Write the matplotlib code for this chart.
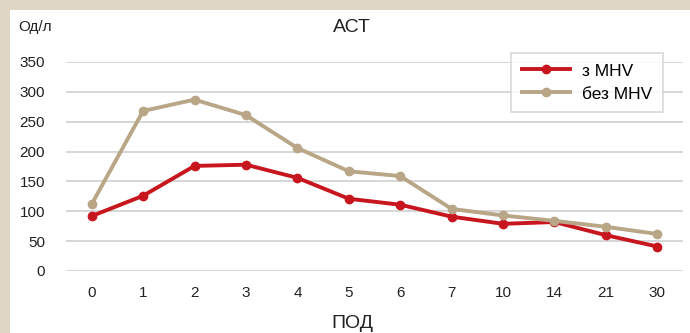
import matplotlib.pyplot as plt
import matplotlib.patches as patches

# data
days = ['0', '1', '2', '3', '4', '5', '6', '7', '10', '14', '21', '30']
with_mhv = [92, 126, 176, 178, 156, 121, 111, 91, 79, 82, 60, 41]
without_mhv = [112, 268, 287, 261, 206, 167, 159, 104, 93, 84, 74, 62]
y_ticks = [0, 50, 100, 150, 200, 250, 300, 350]

plt.rcParams['font.family'] = ['Liberation Sans', 'DejaVu Sans']

W, H = 690, 333
fig = plt.figure(figsize=(W / 100, H / 100), dpi=100)
fig.patch.set_facecolor('#dfd6c3')
# white panel
fig.patches.append(patches.Rectangle((10 / W, 0), 1, 1 - 10 / H, transform=fig.transFigure,
                                     facecolor='white', edgecolor='none', zorder=-10))

ax = fig.add_axes([66 / W, 1 - 271 / H, (683 - 66) / W, (271 - 62) / H])
ax.set_facecolor('none')
x = range(len(days))
ax.plot(x, with_mhv, color='#c8161e', lw=2.8, marker='o', ms=6, label='з MHV', zorder=3)
ax.plot(x, without_mhv, color='#b9a687', lw=2.8, marker='o', ms=6, label='без MHV', zorder=3)

ax.set_xlim(-0.5, len(days) - 0.5)
ax.set_ylim(0, 350)
ax.set_xticks(list(x))
ax.set_xticklabels(days)
ax.set_yticks(y_ticks)
ax.grid(axis='y', color='#cfcfcf', lw=1.2)
ax.set_axisbelow(True)
for s in ax.spines.values():
    s.set_visible(False)
ax.tick_params(length=0, labelsize=11, colors='#222222')
ax.tick_params(axis='x', pad=11)
ax.tick_params(axis='y', pad=15)

fig.text(352 / W, 1 - 27 / H, 'АСТ', ha='center', va='center', fontsize=14, color='#222222')
fig.text(18 / W, 1 - 27 / H, 'Од/л', ha='left', va='center', fontsize=11, color='#222222')
fig.text(352 / W, 1 - 323 / H, 'ПОД', ha='center', va='center', fontsize=14, color='#222222')

leg = ax.legend(loc='upper right', bbox_to_anchor=((663 - 66) / (683 - 66), (271 - 53) / (271 - 62)),
                frameon=True, fancybox=False, fontsize=12.5, handlelength=2.8,
                handletextpad=0.7, borderpad=0.6, labelspacing=0.45, borderaxespad=0)
leg.get_frame().set_edgecolor('#cfcfcf')
leg.get_frame().set_linewidth(1.2)

fig.savefig('out.png', dpi=100, facecolor=fig.get_facecolor())
